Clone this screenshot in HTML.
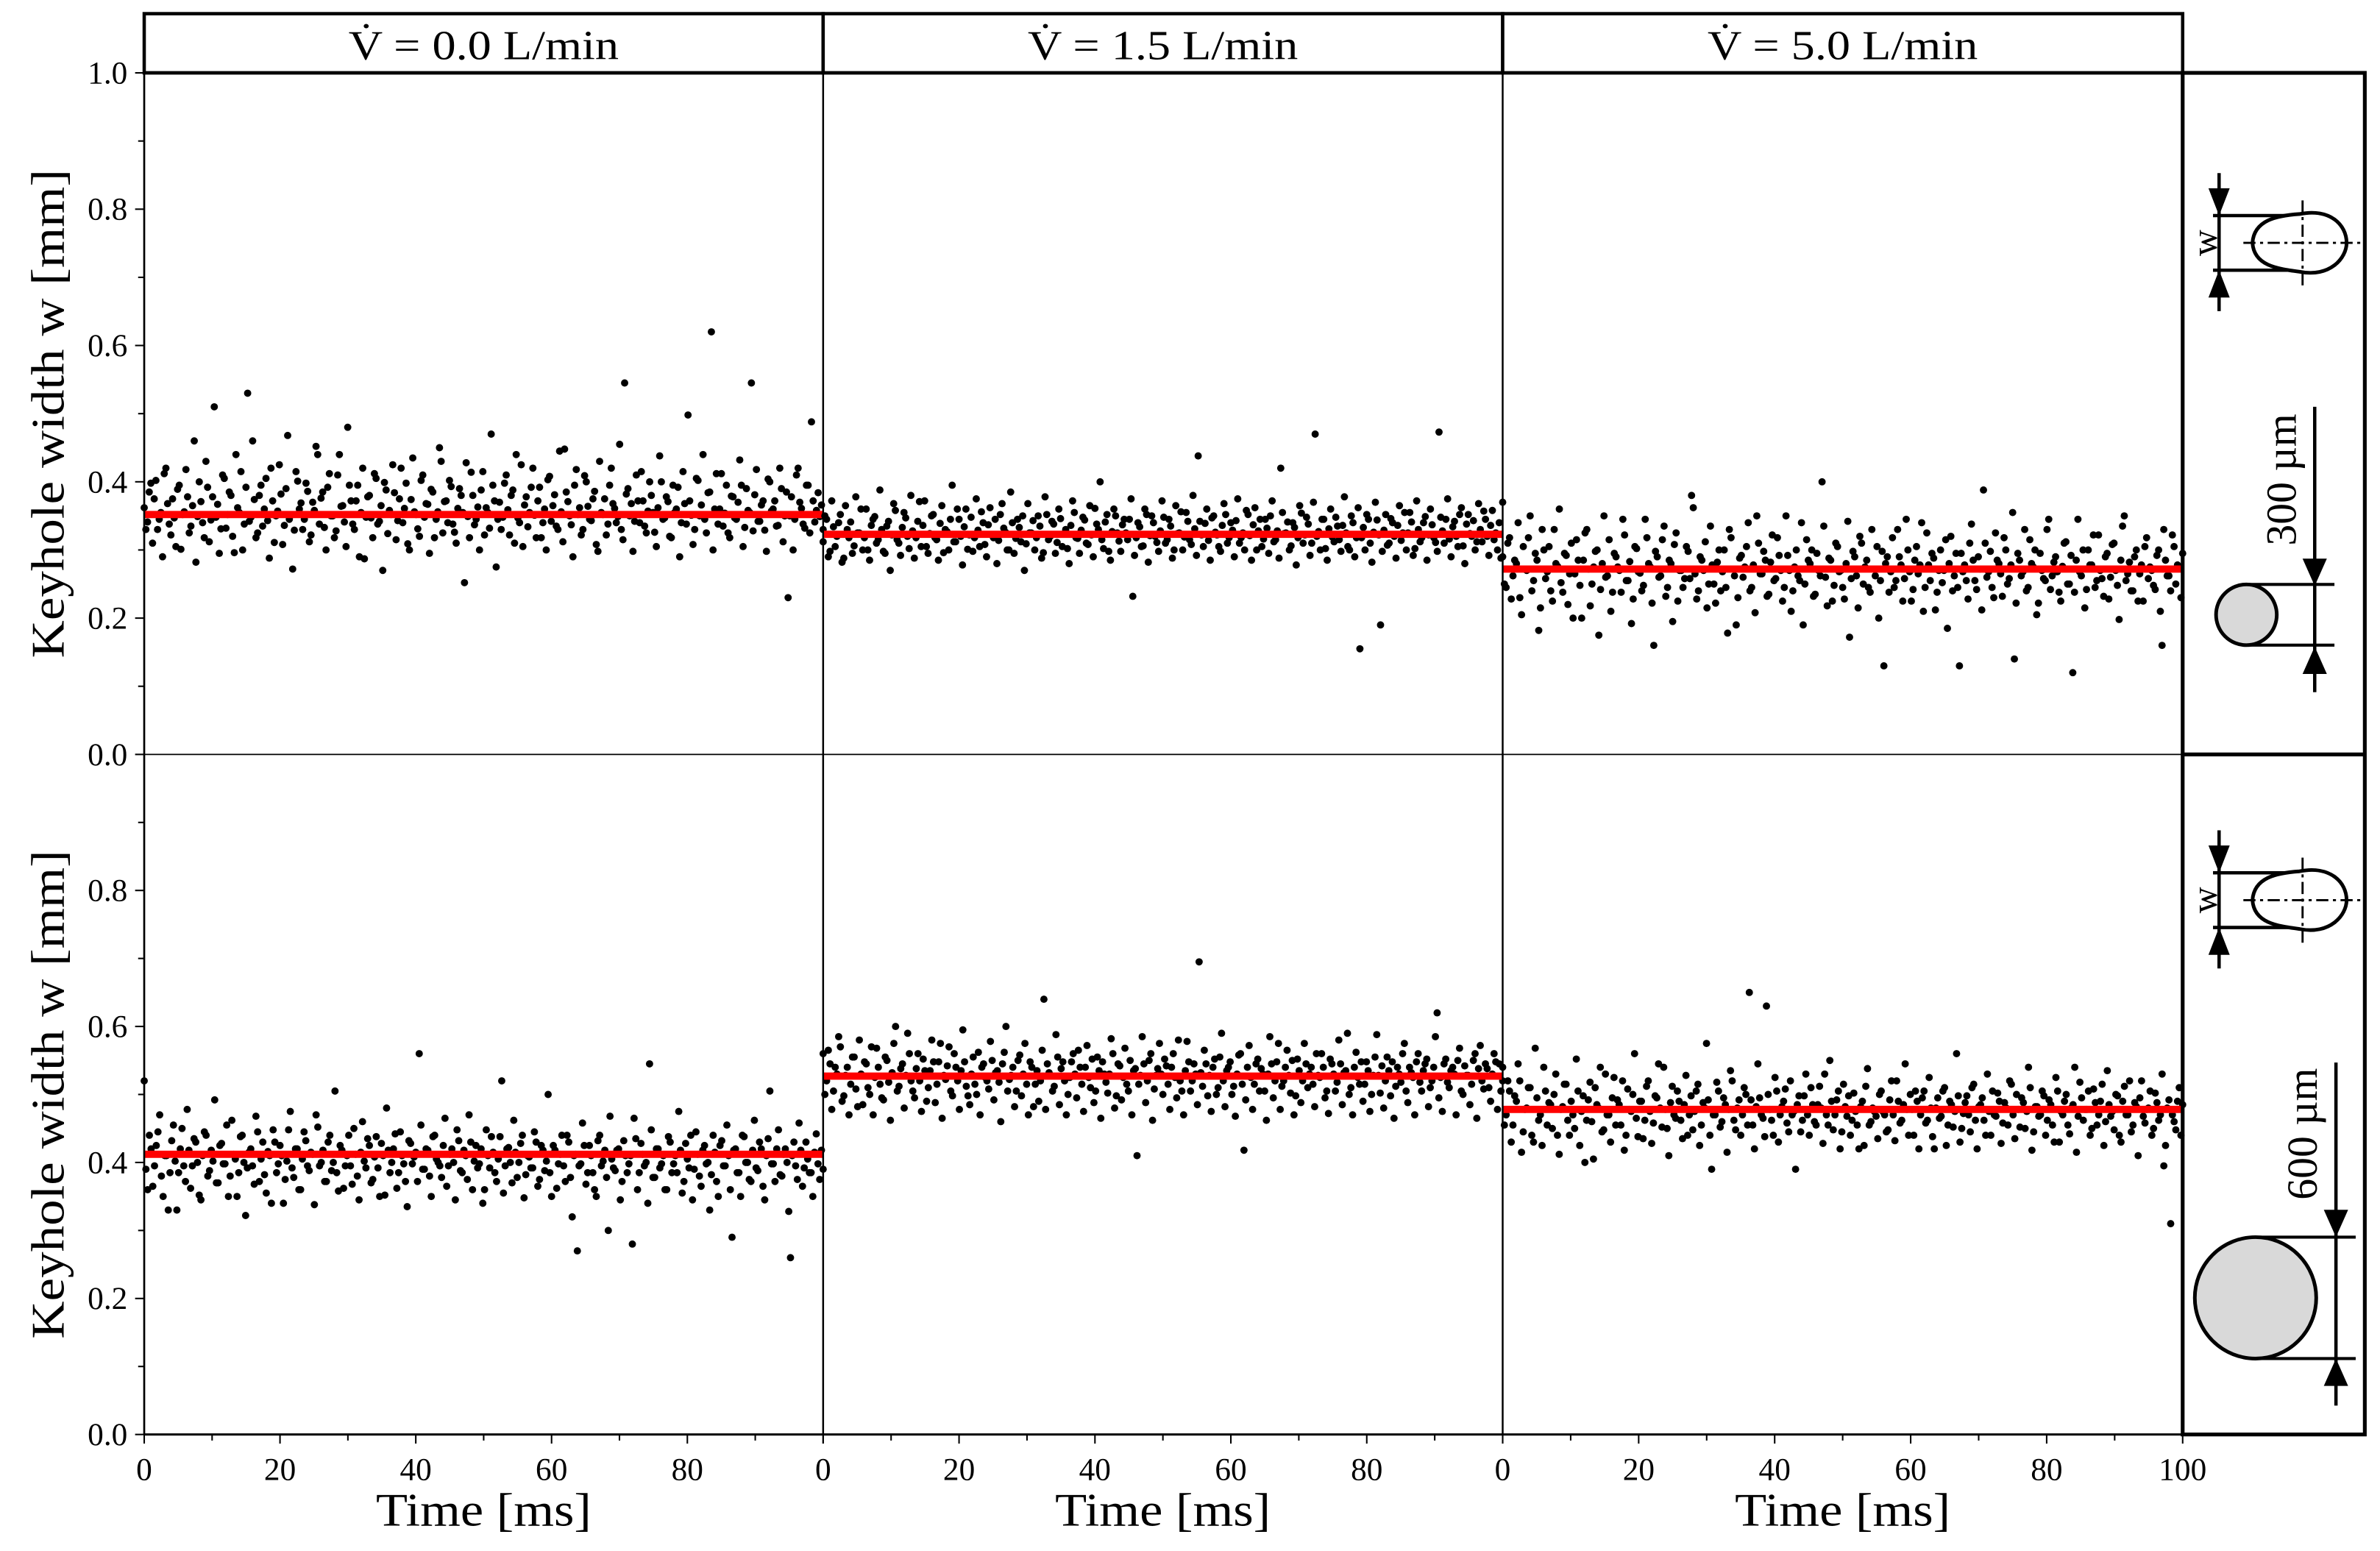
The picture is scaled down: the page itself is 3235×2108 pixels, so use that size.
<!DOCTYPE html>
<html><head><meta charset="utf-8"><style>
html,body{margin:0;padding:0;background:#fff}
svg{display:block}
text{font-family:"Liberation Serif",serif;fill:#000}
</style></head><body>
<svg id="chart" width="3235" height="2108" viewBox="0 0 1568 1021.76" xmlns="http://www.w3.org/2000/svg">
<g id="plots"></g>
<g id="side">
 <rect x="1438" y="48" width="120" height="897" fill="none" stroke="#000" stroke-width="2.5"/>
 <line x1="1438" y1="497" x2="1558" y2="497" stroke="#000" stroke-width="2.5"/>
 <g id="schem-top">
  <g>
   <line x1="1462" y1="114" x2="1462" y2="205" stroke="#000" stroke-width="2.2"/>
   <polygon points="1455,124 1469,124 1462,142" fill="#000"/>
   <polygon points="1455,196 1469,196 1462,178" fill="#000"/>
   <line x1="1458" y1="142" x2="1515" y2="142" stroke="#000" stroke-width="2.2"/>
   <line x1="1458" y1="178" x2="1515" y2="178" stroke="#000" stroke-width="2.2"/>
   <path d="M1515,141 C1500,142 1485,145 1484,160 C1485,175 1500,177 1515,179 C1535,183 1546,170 1546,160 C1546,148 1535,137 1515,141 Z" fill="#fff" stroke="#000" stroke-width="2.4"/>
   <line x1="1478" y1="160" x2="1555" y2="160" stroke="#000" stroke-width="1.4" stroke-dasharray="8,3,2,3"/>
   <line x1="1517" y1="132" x2="1517" y2="190" stroke="#000" stroke-width="1.4" stroke-dasharray="8,3,2,3"/>
   <text x="1455" y="160" font-size="24" transform="rotate(-90 1455 160)" text-anchor="middle" dominant-baseline="middle">w</text>
  </g>
  <line x1="1525" y1="268" x2="1525" y2="456" stroke="#000" stroke-width="2.2"/>
  <polygon points="1517,368 1533,368 1525,386" fill="#000"/>
  <polygon points="1517,444 1533,444 1525,426" fill="#000"/>
  <line x1="1480" y1="385" x2="1538" y2="385" stroke="#000" stroke-width="2"/>
  <line x1="1480" y1="425" x2="1538" y2="425" stroke="#000" stroke-width="2"/>
  <ellipse cx="1480" cy="405" rx="20" ry="20" fill="#d9d9d9" stroke="#000" stroke-width="2.4"/>
  <text x="1506" y="316" font-size="28" transform="rotate(-90 1506 316)" text-anchor="middle" dominant-baseline="middle">300 µm</text>
 </g>
 <g id="schem-bot">
  <g transform="translate(0,433)">
   <line x1="1462" y1="114" x2="1462" y2="205" stroke="#000" stroke-width="2.2"/>
   <polygon points="1455,124 1469,124 1462,142" fill="#000"/>
   <polygon points="1455,196 1469,196 1462,178" fill="#000"/>
   <line x1="1458" y1="142" x2="1515" y2="142" stroke="#000" stroke-width="2.2"/>
   <line x1="1458" y1="178" x2="1515" y2="178" stroke="#000" stroke-width="2.2"/>
   <path d="M1515,141 C1500,142 1485,145 1484,160 C1485,175 1500,177 1515,179 C1535,183 1546,170 1546,160 C1546,148 1535,137 1515,141 Z" fill="#fff" stroke="#000" stroke-width="2.4"/>
   <line x1="1478" y1="160" x2="1555" y2="160" stroke="#000" stroke-width="1.4" stroke-dasharray="8,3,2,3"/>
   <line x1="1517" y1="132" x2="1517" y2="190" stroke="#000" stroke-width="1.4" stroke-dasharray="8,3,2,3"/>
   <text x="1455" y="160" font-size="24" transform="rotate(-90 1455 160)" text-anchor="middle" dominant-baseline="middle">w</text>
  </g>
  <line x1="1539" y1="700" x2="1539" y2="926" stroke="#000" stroke-width="2.2"/>
  <polygon points="1531,797 1547,797 1539,815" fill="#000"/>
  <polygon points="1531,913 1547,913 1539,895" fill="#000"/>
  <line x1="1486" y1="815" x2="1552" y2="815" stroke="#000" stroke-width="2"/>
  <line x1="1486" y1="895" x2="1552" y2="895" stroke="#000" stroke-width="2"/>
  <ellipse cx="1486" cy="855" rx="40" ry="40" fill="#d9d9d9" stroke="#000" stroke-width="2.4"/>
  <text x="1520" y="747" font-size="28" transform="rotate(-90 1520 747)" text-anchor="middle" dominant-baseline="middle">600 µm</text>
 </g>
</g>
</svg>
<script>
// ---- data (keyhole width in micrometres per sample) ----
const flowLabels = ["0.0", "1.5", "5.0"];
const rowDiameters = ["300", "600"];
const meanTop = [0.352, 0.323, 0.272];
const meanBot = [0.412, 0.527, 0.478];
const yTicks = [0, 0.2, 0.4, 0.6, 0.8, 1.0];
const xTicks = [0, 20, 40, 60, 80, 100];
const sTopA = [362,341,398,375,330,355,412,368,322,347,389,301,356,378,335,460,349,371,318,392,344,510,367,331,405,352,380,296,362,415,338,530,348,374,325,395,360,343,420,311,357,382,336,468,351,329,401,369,345,386,322,358,440,376,333,392,350,318,410,364,341,480,372,330,395,355,287,378,347,412,338,365,399,324,352,384,343,420,361,309,374,356,331,402,348,367,389,318,356,430,371,340,393,326,361,380,252,349,414,337,363,388,322,355,470,372,345,330,398,359,380,310,347,425,366,334,392,351,372,318,360,403,342,381,330,356,448,371,337,395,352,322,409,364,343,386,298,355,375,338,420,361,349,330,545,390,368,342,372,415,335,357,380,326,362,400,347,371,318,355,392,340,368,498,351,330,402,366,345,384,620,360,338,412,354,325,379,347,370,395,333,358,545,381,342,366,329,404,357,372,336,390,350,230,378,345,420,361,332,395,488,372,341,358,384,349,366,330];
const sTopA2 = [330,385,310,402,345,290,420,338,375,305,395,352,418,325,365,282,400,340,430,312,378,348,295,410,332,385,320,440,355,300,392,342,460,318,380,335,405,288,372,350,425,308,390,345,272,415,360,330,398,312,370,452,338,385,300,412,350,328,440,365,305,395,338,372,290,420,348,380,318,405,342,270,388,358,425,315,375,340,398,300,435,352,320,410,368,295,385,345,450,325,372,402,338,310,390,355,428,318,380,345,300,415,362,332,395,275,370,348,410,322,388,440,340,305,378,355,420,318,392,340,300,408,365,335,445,312,385,350,290,418,362,330,400,345,375,308,430,352,322,395,368,340,455,315,382,350,298,410,340,372,325,400,355,305,438,345,378,320,395,360,290,415,338,372,308,405,350,440,325,385,300,412,360,335,395,318,378,345,432,305,390,355,328,418,342,372,298,400,360,335,420,312,385,350,300,410,370,338,395,325];
const sTopB = [312,345,298,334,320,352,288,330,341,306,325,360,318,300,336,349,315,330,295,342,322,358,310,333,347,302,328,318,371,336,305,324,352,315,339,296,327,345,312,360,320,334,301,348,318,329,356,308,337,322,345,314,368,326,300,340,317,333,350,309,325,343,318,335,296,352,320,338,311,346,324,302,336,355,317,329,344,308,322,361,330,315,341,298,327,350,313,337,325,345,232,318,334,306,352,321,340,311,328,348,315,335,300,324,356,319,342,308,331,438,322,339,314,347,326,305,336,352,318,329,343,310,325,358,321,337,300,345,316,332,350,312,328,420,324,341,306,333,318,354,322,338,310,470,327,345,302,331,319,348,315,336,325,300,340,318,155,333,352,310,326,344,190,329,307,346,320,336,314,355,325,341,302,330,318,349,322,337,311,473,328,345,316,334,320,352,306,338,324,343,312,330,357,320,336,315];
const sTopB2 = [350,290,372,305,340,282,365,318,295,378,325,300,360,285,345,310,388,298,335,270,368,315,292,355,320,380,288,342,305,372,295,350,318,285,365,330,300,395,312,345,278,360,322,298,375,305,340,290,362,318,280,352,332,300,385,295,345,312,270,368,325,300,350,288,378,315,342,295,360,305,330,280,372,318,295,348,310,365,290,338,400,302,352,285,360,325,298,345,315,375,292,340,305,360,282,350,320,298,372,310,345,288,365,325,300,355,315,380,292,342,305,360,285,350,322,298,368,310,340,290,375,318,300,352,285,362,328,305,345,295,372,315,288,355,325,300,340,278,365,310,348,292,370,320,300,345,285,360,312,335,298,378,305,350,290,362,318,300,345,282,370,322,298,352,310,340,288,365,325,300,355,292,372,312,340,285,360,318,298,348,310,375,290,342,305,362,280,352,320,300,368,312,345,292,358,325,300,340,288,370];
const sTopC = [290,245,318,262,280,230,305,270,350,255,285,215,300,268,240,330,276,252,295,220,310,265,285,200,325,272,250,298,175,280,260,315,238,290,270,345,255,283,228,302,266,248,318,275,160,290,262,335,245,280,308,225,270,258,298,380,265,240,285,312,250,278,222,300,268,245,330,272,190,288,260,305,240,278,350,265,298,232,282,255,318,270,245,292,210,275,262,340,250,285,300,235,270,400,260,288,225,310,268,245,280,172,298,262,320,250,285,238,272,305,255,130,290,268,245,330,278,258,300,225,285,265,340,245,278,295,212,270,252,315,280,240,295,130,268,255,310,285,242,272,388,260,298,230,285,265,318,250,278,140,295,262,330,245,280,300,222,270,255,345,262,290,238,276,312,250,120,285,268,300,242,278,322,255,270,232,295,260,310,248,285,350,265,240,290,225,278,305,258,270,242,300,160,285,262,322,250,275];
const sTopC2 = [250,310,228,285,340,205,272,318,240,295,182,330,258,305,225,280,360,238,292,265,200,315,248,285,330,218,275,300,242,350,262,210,295,275,238,322,255,192,305,268,240,345,280,222,298,260,315,232,285,195,325,270,245,305,258,362,228,290,270,215,335,250,282,240,300,178,318,262,230,292,275,340,245,208,310,265,285,235,322,258,292,225,350,270,240,300,255,190,315,280,232,295,262,335,218,285,248,305,270,228,342,258,290,215,310,275,245,330,262,200,298,280,238,318,255,290,225,345,268,242,305,278,210,325,255,288,238,300,270,185,320,262,245,295,278,228,338,255,290,212,310,268,245,325,280,232,300,258,355,222,285,268,240,315,275,205,295,258,330,242,282,268,225,310,250,292,238,345,262,215,300,278,245,322,258,290,228,308,270,198,335,255,282,240,300,265,225,318,275,248,292,210,330,262,240,305,278,230,295];
const sBotA = [520,360,420,395,445,380,410,330,432,402,385,450,372,418,395,430,352,410,440,388,402,370,425,398,455,380,412,350,438,400,392,420,368,445,405,382,416,340,430,398,410,375,448,392,420,360,405,432,388,412,470,395,418,372,440,400,385,425,362,410,395,450,380,415,402,435,370,408,392,428,352,418,400,442,385,410,372,432,398,415,560,390,420,380,438,405,395,425,365,412,400,448,388,418,375,430,402,392,420,360,410,438,385,405,520,395,422,370,415,400,440,382,408,392,430,375,418,402,385,425,362,412,395,440,378,410,270,398,425,385,410,360,432,395,418,300,405,388,420,372,410,398,280,435,385,412,400,545,378,420,392,410,360,430,398,385,418,372,405,440,390,412,365,425,400,382,415,350,432,395,410,290,420,385,440,400,375,418,392,430,365,410,505,398,420,382,412,400,260,430,375,418,392,405,385,415];
const sBotA2 = [390,440,365,425,470,350,410,385,455,330,420,395,478,362,435,400,345,445,380,418,492,370,428,398,350,462,405,385,440,322,415,395,468,372,430,355,410,448,385,425,340,402,475,378,420,360,445,395,415,338,452,400,372,430,388,505,358,418,395,440,368,412,345,460,392,425,375,438,350,410,480,385,420,362,445,398,335,428,408,372,455,390,418,350,440,400,378,465,395,420,345,432,385,410,470,360,425,398,340,448,392,415,372,438,355,420,400,462,378,428,348,410,392,445,365,425,388,500,350,418,398,440,372,430,320,412,395,458,368,425,385,350,440,402,378,468,392,418,345,432,385,410,465,360,428,395,340,448,378,420,398,360,438,385,410,475,355,428,392,345,445,380,418,398,330,440,372,425,395,455,360,418,385,350,438,400,372,462,388,420,345,435,398,372,448,380,420,328,410,395,458,365,430,385,350,442,398,375,418,390];
const sBotB = [560,520,545,505,530,570,498,540,515,555,482,530,548,510,570,525,540,495,555,518,532,600,512,545,528,560,505,538,520,552,490,535,548,515,575,528,542,505,560,520,535,548,498,530,515,562,540,525,508,550,532,518,545,600,522,540,505,558,530,515,548,482,535,520,640,545,528,512,555,538,520,500,548,530,565,515,540,525,552,505,535,548,518,530,560,498,542,525,515,550,535,410,528,545,520,560,508,538,530,552,515,540,525,580,505,535,548,520,530,695,512,545,528,540,500,555,520,535,548,512,530,560,418,540,525,515,552,538,505,530,545,520,575,512,540,528,550,498,535,520,545,530,515,560,525,540,505,552,530,518,545,532,590,510,540,525,548,515,535,500,555,528,542,520,535,548,512,530,560,505,540,525,548,518,535,552,510,540,620,525,545,518,535,530,550,505,542,528,515,560,538,520,545,510,530,548];
const sBotB2 = [500,565,478,540,585,490,528,470,555,508,580,485,545,500,470,568,515,492,550,462,575,505,538,480,590,520,495,560,475,535,510,580,488,548,465,522,570,498,540,478,595,512,485,555,500,470,545,520,578,492,535,460,562,505,528,482,550,498,575,470,540,515,490,565,478,532,505,588,485,548,470,525,560,495,540,475,572,510,488,555,465,530,502,582,480,545,492,568,505,470,538,515,585,488,550,462,528,575,500,542,478,560,495,520,470,578,505,545,485,532,565,498,475,552,510,590,482,540,500,468,558,515,492,572,478,545,505,530,462,585,495,548,478,520,565,502,470,552,488,575,510,540,482,528,560,495,472,545,505,580,485,535,500,470,562,515,490,548,475,528,588,502,480,555,498,465,540,518,575,488,532,470,560,505,545,482,520,585,495,475,552,510,540,470,568,500,528,485,550,465,572,508,538,490,560,478,545,505,520];
const sBotC = [540,470,505,455,490,520,445,480,510,430,495,470,540,455,485,500,440,478,515,462,490,450,505,475,400,492,460,510,480,445,530,470,495,455,485,520,440,478,500,465,490,435,512,475,458,495,480,540,450,488,470,505,462,485,440,498,475,515,455,480,492,390,470,505,460,485,478,520,448,492,470,500,650,455,482,495,465,630,478,440,505,470,490,458,520,475,485,445,498,470,510,460,485,480,530,455,490,470,505,445,482,498,462,475,420,490,512,455,480,468,500,475,445,492,470,520,458,485,478,500,440,490,470,505,462,480,420,495,468,510,455,485,475,498,450,488,470,510,462,482,495,440,475,505,468,490,458,480,520,470,500,452,488,475,510,445,482,470,498,462,485,430,505,475,490,455,480,540,468,495,478,505,450,488,470,515,460,485,475,500,440,490,470,520,455,482,495,468,478,505,450,488,470,395,480,310,460,490];
const sBotC2 = [455,520,430,498,545,415,478,510,440,568,462,425,505,488,450,530,412,482,515,440,470,552,425,498,462,518,405,485,540,448,470,430,525,492,455,418,508,475,560,438,490,462,520,428,498,545,452,478,410,512,465,490,435,528,470,448,505,425,488,575,440,470,518,452,495,415,535,462,480,440,510,455,492,420,545,470,438,500,462,525,430,482,508,445,470,390,498,462,530,440,485,455,512,428,470,550,448,492,420,515,468,440,502,455,482,425,538,460,475,435,505,470,448,520,432,490,462,545,440,478,505,420,495,458,525,438,480,465,505,425,490,452,560,430,472,498,445,515,420,485,462,530,440,470,502,428,488,455,515,435,478,495,450,540,418,482,468,505,440,492,455,525,430,470,500,442,485,415,518,462,478,440,508,455,490,425,535,468,448,498,430,512,470,445,488,410,520,458,480,440,502,462,530,425,492,470,448,510,440,485];
const topSeries = [[sTopA, sTopA2], [sTopB, sTopB2], [sTopC, sTopC2]];
const botSeries = [[sBotA, sBotA2], [sBotB, sBotB2], [sBotC, sBotC2]];

const NS = "http://www.w3.org/2000/svg";
const plots = document.getElementById("plots");
const panelX = [95, 542.3, 990, 1438];
const rows = [{top:48, bot:497}, {top:497, bot:945}];
function xScale(p, t){ return panelX[p] + (t/100)*(panelX[p+1]-panelX[p]); }
function yScale(r, v){ return rows[r].bot - v*(rows[r].bot-rows[r].top); }
function mk(tag, attrs, parent){ const e=document.createElementNS(NS,tag); for(const k in attrs) e.setAttribute(k, attrs[k]); (parent||plots).appendChild(e); return e; }

// header boxes
for(let p=0;p<3;p++){
  const hb = mk("rect",{x:panelX[p],y:9,width:panelX[p+1]-panelX[p],height:39,fill:"#fff",stroke:"#000","stroke-width":2.2});
  
  
  const ht = mk("text",{x:(panelX[p]+panelX[p+1])/2,y:39,"font-size":27,"text-anchor":"middle",textLength:178,lengthAdjust:"spacingAndGlyphs"});
  ht.textContent = "V\u0307 = " + flowLabels[p] + " L/min";
  
  
}

// scatter and means
const means=[meanTop, meanBot];
const series=[topSeries, botSeries];
for(let r=0;r<2;r++){
  for(let p=0;p<3;p++){
    const g = mk("g",{});
    
    
    const [a, b] = series[r][p];
    const vals = [];
    for(let i=0;i<Math.max(a.length,b.length);i++){ if(i<a.length) vals.push(a[i]); if(i<b.length) vals.push(b[i]); }
    const n = vals.length;
    for(let i=0;i<n;i++){
      const t = i*100/(n-1);
      const c = mk("circle",{cx:xScale(p,t).toFixed(2),cy:yScale(r,vals[i]/1000).toFixed(2),r:2.4,fill:"#000"},g);
      
      
    }
    const m = mk("line",{x1:xScale(p,0),x2:xScale(p,100),y1:yScale(r,means[r][p]),y2:yScale(r,means[r][p]),stroke:"#ff0000","stroke-width":4.8});
    
    
  }
}

// frames
for(let p=1;p<3;p++){
  const v = mk("line",{x1:panelX[p],x2:panelX[p],y1:48,y2:945,stroke:"#000","stroke-width":1.2});
  
  
}
const midLine = mk("line",{x1:95,x2:1438,y1:497,y2:497,stroke:"#000","stroke-width":0.8});


const yAxis = mk("line",{x1:95,x2:95,y1:48,y2:945,stroke:"#000","stroke-width":1.3});


const xAxis = mk("line",{x1:95,x2:1438,y1:945,y2:945,stroke:"#000","stroke-width":1.5});


const topBorder = mk("line",{x1:95,x2:1438,y1:48,y2:48,stroke:"#000","stroke-width":2.2});



// y ticks
for(let r=0;r<2;r++){
  for(let k=0;k<=10;k++){
    const v=k/10;
    if(r===1 && k===10) continue;
    const y=yScale(r,v);
    const tk = mk("line",{x1:95,x2:(k%2===0)?89:91,y1:y,y2:y,stroke:"#000","stroke-width":1});
    
    
  }
  yTicks.forEach(v=>{
    if(r===1 && v===1.0) return;
    const lab = mk("text",{x:84,y:yScale(r,v)+7,"font-size":21,"text-anchor":"end"});
    lab.textContent = v.toFixed(1);
    
    
  });
  const cy=(rows[r].top+rows[r].bot)/2;
  const yt = mk("text",{x:42,y:cy,"font-size":31,"text-anchor":"middle",transform:`rotate(-90 42 ${cy})`,textLength:322,lengthAdjust:"spacingAndGlyphs"});
  yt.textContent = "Keyhole width w [mm]";
  
  
}

// x ticks
for(let p=0;p<3;p++){
  for(let t=0;t<=100;t+=10){
    const x=xScale(p,t);
    const tk = mk("line",{x1:x,x2:x,y1:945,y2:(t%20===0)?951:949,stroke:"#000","stroke-width":1});
    
    
  }
  xTicks.forEach(t=>{
    if(t===100 && p<2) return;
    const lab = mk("text",{x:xScale(p,t),y:975,"font-size":21,"text-anchor":"middle"});
    lab.textContent = String(t);
    
    
  });
  const xt = mk("text",{x:xScale(p,50),y:1005,"font-size":31,"text-anchor":"middle",textLength:142,lengthAdjust:"spacingAndGlyphs"});
  xt.textContent = "Time [ms]";
  
  
}
</script>
</body></html>
